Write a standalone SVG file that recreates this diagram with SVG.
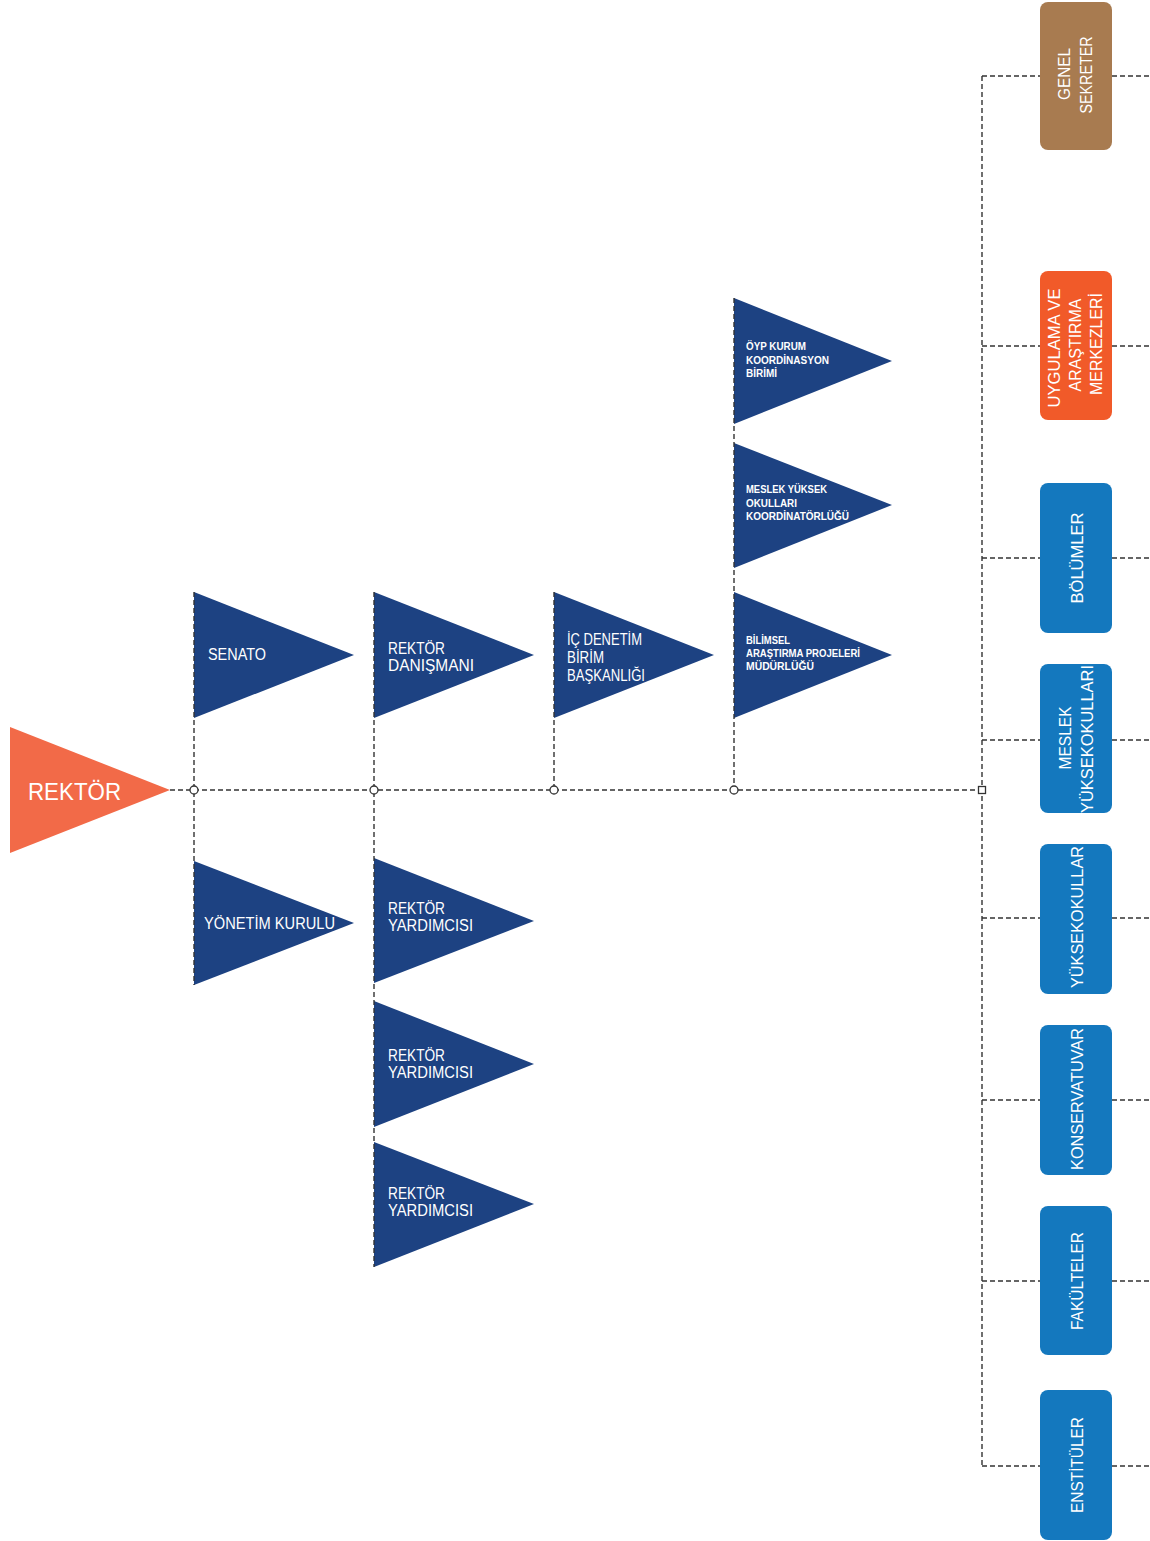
<svg xmlns="http://www.w3.org/2000/svg" width="1150" height="1541" viewBox="0 0 1150 1541">
<style>
.tri{fill:#1d4282}
.t{font-family:"Liberation Sans",Arial,sans-serif;fill:#fff}
.m{font-size:16px}
.s{font-size:10.5px;font-weight:bold}
.b{font-size:17px}
.c{fill:none;stroke:#333;stroke-width:1.4;stroke-dasharray:5 3}
.j{fill:#fff;stroke:#333;stroke-width:1.3}
</style>
<rect width="1150" height="1541" fill="#fff"/>
<g id="rektor">
<polygon points="10,727 170,790 10,853" fill="#f26a48"/>
<text class="t" x="28" y="800" font-size="24" textLength="93" lengthAdjust="spacingAndGlyphs">REKTÖR</text>
</g>
<g id="senato">
<polygon class="tri" points="194,592 354,655 194,718"/>
<text class="t m" x="208" y="660" textLength="58" lengthAdjust="spacingAndGlyphs">SENATO</text>
</g>
<g id="yonetim">
<polygon class="tri" points="194,861 354,923 194,985"/>
<text class="t m" x="204" y="929" textLength="131" lengthAdjust="spacingAndGlyphs">YÖNETİM KURULU</text>
</g>
<g id="danisman">
<polygon class="tri" points="374,592 534,655 374,718"/>
<text class="t m" x="388" y="654" textLength="57" lengthAdjust="spacingAndGlyphs">REKTÖR</text>
<text class="t m" x="388" y="671" textLength="86" lengthAdjust="spacingAndGlyphs">DANIŞMANI</text>
</g>
<g id="yard1">
<polygon class="tri" points="374,858 534,921 374,983"/>
<text class="t m" x="388" y="914" textLength="57" lengthAdjust="spacingAndGlyphs">REKTÖR</text>
<text class="t m" x="388" y="931" textLength="85" lengthAdjust="spacingAndGlyphs">YARDIMCISI</text>
</g>
<g id="yard2">
<polygon class="tri" points="374,1001 534,1064 374,1127"/>
<text class="t m" x="388" y="1061" textLength="57" lengthAdjust="spacingAndGlyphs">REKTÖR</text>
<text class="t m" x="388" y="1078" textLength="85" lengthAdjust="spacingAndGlyphs">YARDIMCISI</text>
</g>
<g id="yard3">
<polygon class="tri" points="374,1142 534,1204 374,1267"/>
<text class="t m" x="388" y="1199" textLength="57" lengthAdjust="spacingAndGlyphs">REKTÖR</text>
<text class="t m" x="388" y="1216" textLength="85" lengthAdjust="spacingAndGlyphs">YARDIMCISI</text>
</g>
<g id="icdenetim">
<polygon class="tri" points="554,592 714,655 554,718"/>
<text class="t m" x="567" y="645" textLength="75" lengthAdjust="spacingAndGlyphs">İÇ DENETİM</text>
<text class="t m" x="567" y="663" textLength="37" lengthAdjust="spacingAndGlyphs">BİRİM</text>
<text class="t m" x="567" y="681" textLength="78" lengthAdjust="spacingAndGlyphs">BAŞKANLIĞI</text>
</g>
<g id="bilimsel">
<polygon class="tri" points="734,592 892,655 734,718"/>
<text class="t s" x="746" y="644" textLength="44" lengthAdjust="spacingAndGlyphs">BİLİMSEL</text>
<text class="t s" x="746" y="657" textLength="114" lengthAdjust="spacingAndGlyphs">ARAŞTIRMA PROJELERİ</text>
<text class="t s" x="746" y="670" textLength="68" lengthAdjust="spacingAndGlyphs">MÜDÜRLÜĞÜ</text>
</g>
<g id="myo-koord">
<polygon class="tri" points="734,443 892,505 734,568"/>
<text class="t s" x="746" y="493" textLength="81" lengthAdjust="spacingAndGlyphs">MESLEK YÜKSEK</text>
<text class="t s" x="746" y="507" textLength="51" lengthAdjust="spacingAndGlyphs">OKULLARI</text>
<text class="t s" x="746" y="520" textLength="103" lengthAdjust="spacingAndGlyphs">KOORDİNATÖRLÜĞÜ</text>
</g>
<g id="oyp">
<polygon class="tri" points="734,298 892,361 734,424"/>
<text class="t s" x="746" y="350" textLength="60" lengthAdjust="spacingAndGlyphs">ÖYP KURUM</text>
<text class="t s" x="746" y="364" textLength="83" lengthAdjust="spacingAndGlyphs">KOORDİNASYON</text>
<text class="t s" x="746" y="377" textLength="31" lengthAdjust="spacingAndGlyphs">BİRİMİ</text>
</g>
<g id="connectors">
<line class="c" x1="170" y1="790" x2="982" y2="790"/>
<line class="c" x1="194" y1="592" x2="194" y2="985"/>
<line class="c" x1="374" y1="592" x2="374" y2="1267"/>
<line class="c" x1="554" y1="592" x2="554" y2="790"/>
<line class="c" x1="734" y1="298" x2="734" y2="790"/>
<line class="c" x1="982" y1="76" x2="982" y2="1466"/>
<path class="c" d="M982 76H1040M1112 76H1150M982 346H1040M1112 346H1150M982 558H1040M1112 558H1150M982 740H1040M1112 740H1150M982 918H1040M1112 918H1150M982 1100H1040M1112 1100H1150M982 1281H1040M1112 1281H1150M982 1466H1040M1112 1466H1150"/>
<circle class="j" cx="194" cy="790" r="4"/>
<circle class="j" cx="374" cy="790" r="4"/>
<circle class="j" cx="554" cy="790" r="4"/>
<circle class="j" cx="734" cy="790" r="4"/>
<rect class="j" x="978.5" y="786.5" width="7" height="7"/>
</g>
<g id="genel-sekreter">
<rect x="1040" y="2" width="72" height="148" rx="8" fill="#a87b50"/>
<text class="t b" text-anchor="middle" transform="translate(1070,74) rotate(-90)" textLength="52" lengthAdjust="spacingAndGlyphs">GENEL</text>
<text class="t b" text-anchor="middle" transform="translate(1092,75) rotate(-90)" textLength="77" lengthAdjust="spacingAndGlyphs">SEKRETER</text>
</g>
<g id="uygulama">
<rect x="1040" y="271" width="72" height="149" rx="8" fill="#f15a29"/>
<text class="t b" text-anchor="middle" transform="translate(1060,348) rotate(-90)" textLength="119" lengthAdjust="spacingAndGlyphs">UYGULAMA VE</text>
<text class="t b" text-anchor="middle" transform="translate(1081,345) rotate(-90)" textLength="93" lengthAdjust="spacingAndGlyphs">ARAŞTIRMA</text>
<text class="t b" text-anchor="middle" transform="translate(1102,344) rotate(-90)" textLength="102" lengthAdjust="spacingAndGlyphs">MERKEZLERİ</text>
</g>
<g id="bolumler">
<rect x="1040" y="483" width="72" height="150" rx="8" fill="#1478be"/>
<text class="t b" text-anchor="middle" transform="translate(1083,558) rotate(-90)" textLength="91" lengthAdjust="spacingAndGlyphs">BÖLÜMLER</text>
</g>
<g id="myo">
<rect x="1040" y="664" width="72" height="149" rx="8" fill="#1478be"/>
<text class="t b" text-anchor="middle" transform="translate(1071,738) rotate(-90)" textLength="63" lengthAdjust="spacingAndGlyphs">MESLEK</text>
<text class="t b" text-anchor="middle" transform="translate(1093,739) rotate(-90)" textLength="148" lengthAdjust="spacingAndGlyphs">YÜKSEKOKULLARI</text>
</g>
<g id="yuksekokullar">
<rect x="1040" y="844" width="72" height="150" rx="8" fill="#1478be"/>
<text class="t b" text-anchor="middle" transform="translate(1083,917) rotate(-90)" textLength="142" lengthAdjust="spacingAndGlyphs">YÜKSEKOKULLAR</text>
</g>
<g id="konservatuvar">
<rect x="1040" y="1025" width="72" height="150" rx="8" fill="#1478be"/>
<text class="t b" text-anchor="middle" transform="translate(1083,1099) rotate(-90)" textLength="142" lengthAdjust="spacingAndGlyphs">KONSERVATUVAR</text>
</g>
<g id="fakulteler">
<rect x="1040" y="1206" width="72" height="149" rx="8" fill="#1478be"/>
<text class="t b" text-anchor="middle" transform="translate(1083,1281) rotate(-90)" textLength="98" lengthAdjust="spacingAndGlyphs">FAKÜLTELER</text>
</g>
<g id="enstituler">
<rect x="1040" y="1390" width="72" height="150" rx="8" fill="#1478be"/>
<text class="t b" text-anchor="middle" transform="translate(1083,1465) rotate(-90)" textLength="96" lengthAdjust="spacingAndGlyphs">ENSTİTÜLER</text>
</g>
</svg>
